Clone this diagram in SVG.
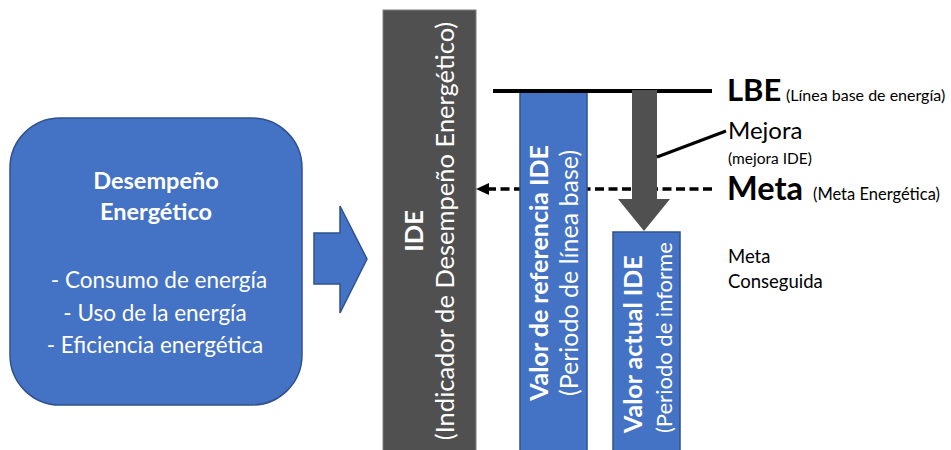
<svg xmlns="http://www.w3.org/2000/svg" width="951" height="450" viewBox="0 0 951 450">
  <defs>
    <style>
      text { font-family: Lato, "Open Sans", "Liberation Sans", sans-serif; }
      .w { fill: #ffffff; }
      .k { fill: #000000; }
      .b { font-weight: bold; }
      .blue { fill: #4472C4; stroke: #2F528F; stroke-width: 1.5; }
      .grey { fill: #505050; }
    </style>
  </defs>
  <rect width="951" height="450" fill="#ffffff"/>

  <!-- energy performance box -->
  <g id="desempeno">
    <rect class="blue" x="10" y="118" width="292" height="287" rx="50" ry="50"/>
    <text class="w b" x="156" y="189" font-size="23.5" text-anchor="middle">Desempeño</text>
    <text class="w b" x="156" y="220" font-size="23.5" text-anchor="middle">Energético</text>
    <text class="w" x="159" y="288" font-size="22.5" text-anchor="middle">- Consumo de energía</text>
    <text class="w" x="155" y="321" font-size="22.5" text-anchor="middle">- Uso de la energía</text>
    <text class="w" x="155" y="353" font-size="22.5" text-anchor="middle">- Eficiencia energética</text>
  </g>

  <!-- block arrow -->
  <g id="flecha">
    <path class="blue" d="M314,233 L340,233 L340,206 L367,259 L340,313 L340,284 L314,284 z"/>
  </g>

  <!-- IDE column -->
  <g id="ide">
    <rect class="grey" x="383" y="10" width="93" height="445" stroke="#7F7F7F" stroke-width="1"/>
    <text class="w b" transform="translate(423,231) rotate(-90)" font-size="25.5" text-anchor="middle">IDE</text>
    <text class="w" transform="translate(454,231) rotate(-90)" font-size="25.5" text-anchor="middle">(Indicador de Desempeño Energético)</text>
  </g>

  <!-- target level: dashed line runs behind the columns -->
  <g id="conector-meta">
    <line x1="712" y1="189" x2="487" y2="189" stroke="#000" stroke-width="3.5" stroke-dasharray="9,4.5"/>
    <path d="M476,189 L489,183 L489,195 z" fill="#000"/>
  </g>

  <!-- baseline value column -->
  <g id="referencia">
    <rect class="blue" x="520" y="92" width="67" height="365"/>
    <text class="w b" transform="translate(548,273) rotate(-90)" font-size="25" text-anchor="middle">Valor de referencia IDE</text>
    <text class="w" transform="translate(578,273) rotate(-90)" font-size="25" text-anchor="middle">(Periodo de línea base)</text>
  </g>

  <!-- current value column -->
  <g id="actual">
    <rect class="blue" x="613" y="232" width="67" height="225"/>
    <text class="w b" transform="translate(642,433) rotate(-90)" font-size="25">Valor actual IDE</text>
    <text class="w" transform="translate(672,433) rotate(-90)" font-size="22">(Periodo de informe</text>
  </g>

  <!-- baseline line, improvement arrow and leader -->
  <g id="conectores">
    <line x1="493" y1="91" x2="712" y2="91" stroke="#000" stroke-width="4"/>
    <path class="grey" d="M632,90 L657,90 L657,199 L670,199 L644,231 L618,199 L632,199 z"/>
    <line x1="657" y1="157" x2="726" y2="131" stroke="#000" stroke-width="3"/>
  </g>

  <!-- labels -->
  <g id="etiquetas">
    <text class="k b" x="727" y="101" font-size="31">LBE</text>
    <text class="k" x="786" y="101" font-size="16">(Línea base de energía)</text>
    <text class="k" x="728" y="139" font-size="24">Mejora</text>
    <text class="k" x="728" y="164" font-size="15.5">(mejora IDE)</text>
    <text class="k b" x="727" y="200" font-size="32.5">Meta</text>
    <text class="k" x="813" y="200" font-size="16.5">(Meta Energética)</text>
    <text class="k" x="728" y="263" font-size="18.5">Meta</text>
    <text class="k" x="728" y="288" font-size="18.5">Conseguida</text>
  </g>
</svg>
